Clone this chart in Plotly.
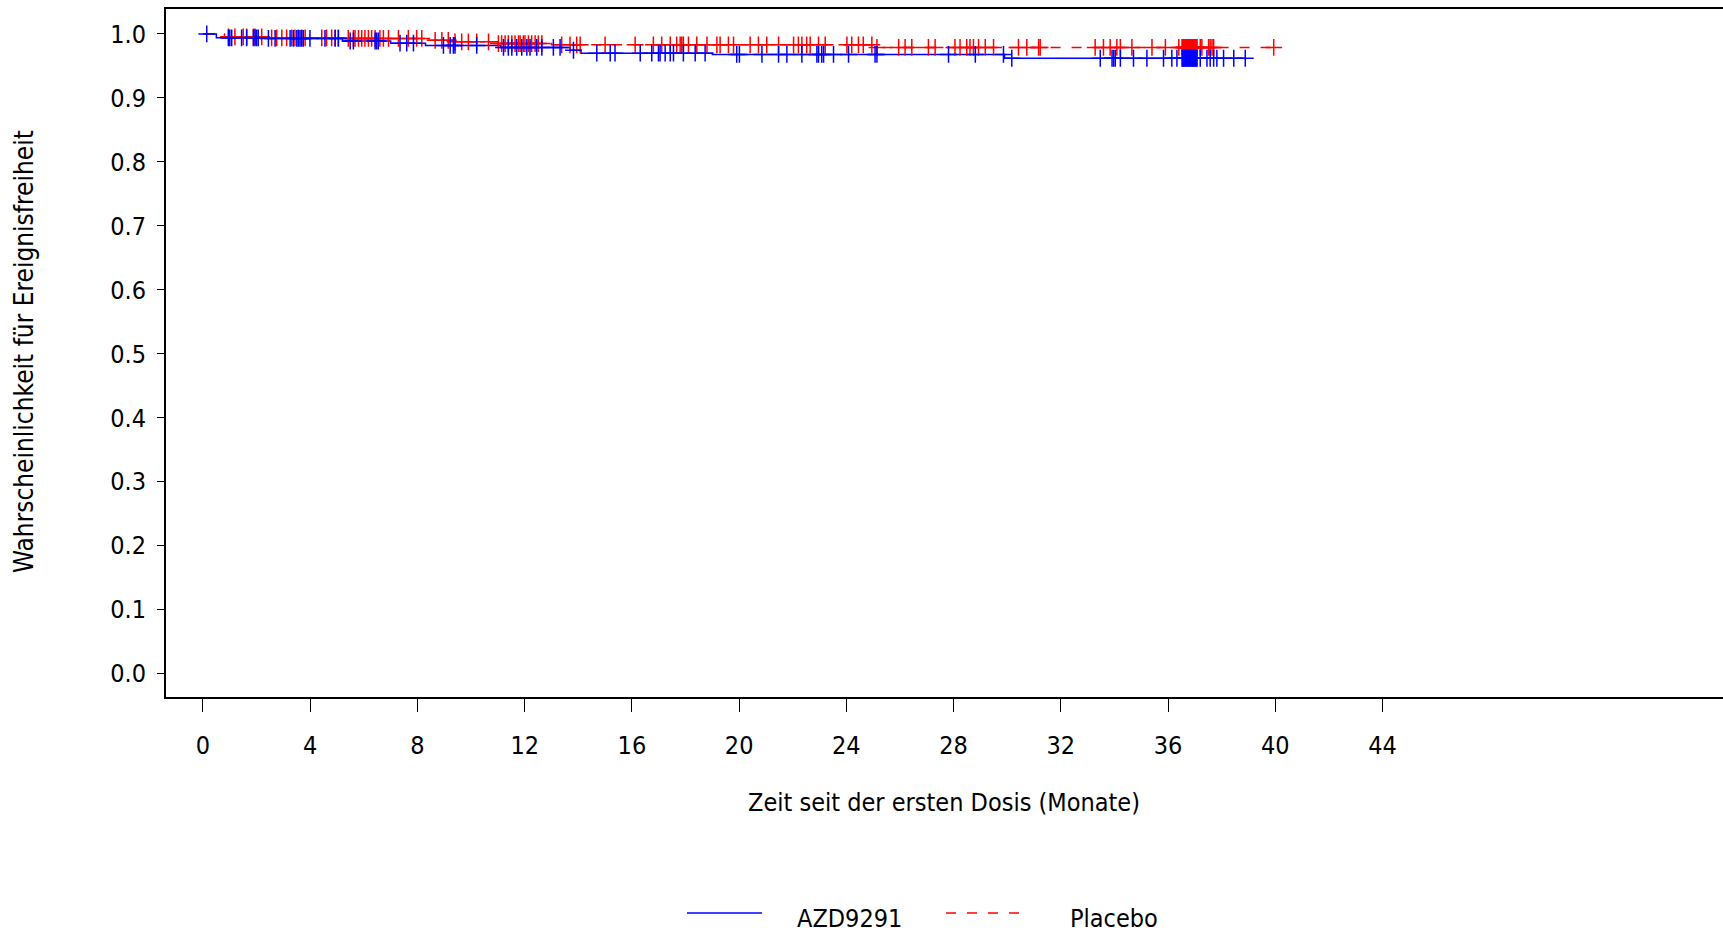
import plotly.graph_objects as go
import numpy as np

# ---------------- data ----------------
group_names = ["AZD9291", "Placebo"]

# Kaplan-Meier step curves (time in months, survival probability)
azd_step_times = [0.0, 0.5, 2.3, 5.2, 7.0, 8.3, 11.1, 13.7, 14.1, 19.0, 29.9, 38.9]
azd_step_surv = [1.0, 0.994, 0.993, 0.989, 0.9855, 0.982, 0.979, 0.9745, 0.970, 0.968, 0.962, 0.962]

pla_step_times = [0.0, 0.8, 2.3, 5.3, 8.3, 9.4, 11.0, 13.0, 25.1, 39.9]
pla_step_surv = [1.0, 0.9955, 0.994, 0.993, 0.990, 0.9877, 0.985, 0.983, 0.979, 0.979]

# censoring times
azd_censor = [0.14, 0.95, 1.0, 1.07, 1.44, 1.63, 1.88, 1.94, 2.0, 2.06, 2.44, 2.69,
              3.25, 3.37, 3.5, 3.56, 3.62, 3.68, 3.74, 3.99, 4.55, 4.93, 5.05, 5.49,
              5.61, 6.42, 6.48, 6.54, 7.35, 7.6, 7.85, 8.97, 9.22, 9.34, 9.4,
              10.21, 11.21, 11.39, 11.52, 11.7, 11.89, 12.08, 12.2, 12.45, 12.64,
              13.07, 13.32, 13.82, 14.69, 15.19, 15.37, 16.31, 16.74, 16.99, 17.05,
              17.24, 17.43, 17.55, 17.92, 18.36, 18.73, 19.91, 20.01,
              20.85, 21.47, 21.78, 22.34, 22.9, 22.96, 23.08, 23.15, 23.52, 24.08,
              25.07, 25.14, 27.81, 28.81, 29.86, 30.17,
              33.47, 33.91, 33.97, 34.03, 34.22, 34.71, 35.21, 35.83, 36.14, 36.33,
              36.52, 36.55, 36.58, 36.6, 36.63, 36.66, 36.69, 36.72, 36.75, 36.78,
              36.8, 36.83, 36.86, 36.89, 36.92, 36.95, 36.97, 37.0, 37.03, 37.06, 37.08,
              37.2, 37.45, 37.57, 37.7, 37.82, 38.07, 38.45, 38.88]

pla_censor = [0.95, 1.19, 1.5, 1.63, 1.88, 1.94, 2.19, 2.56, 2.75, 2.94, 3.12, 3.31,
              3.43, 3.56, 3.68, 3.81, 4.43, 4.61, 4.8, 4.93, 5.05, 5.42, 5.61, 5.67,
              5.8, 5.92, 6.04, 6.17, 6.29, 6.42, 6.6, 6.73, 6.92, 7.29, 7.66, 7.97,
              8.16, 8.66, 8.91, 9.15, 9.4, 9.65, 9.9,
              10.21, 10.65, 11.02, 11.14, 11.27, 11.39, 11.52, 11.64, 11.77, 11.83,
              11.95, 12.01, 12.14, 12.26, 12.39, 12.51, 12.64, 13.38, 13.69, 13.94,
              14.07, 15.0, 16.12, 16.8, 17.11, 17.43, 17.67, 17.8, 17.86, 17.92,
              18.11, 18.42, 18.8, 19.17, 19.29, 19.6, 19.79,
              20.41, 20.72, 21.03, 21.47, 22.03, 22.21, 22.34, 22.52, 22.65, 22.96,
              23.21, 24.02, 24.2, 24.45, 24.63, 24.95, 25.14, 25.95, 26.19, 26.44,
              27.06, 27.31, 28.05, 28.24, 28.49, 28.61, 28.74, 28.93, 29.18, 29.49,
              30.42, 30.73, 31.17, 31.23, 33.28, 33.59, 33.84, 34.09, 34.22, 34.65,
              35.4, 35.9, 36.4,
              36.52, 36.55, 36.58, 36.6, 36.63, 36.66, 36.69, 36.72, 36.75, 36.78,
              36.8, 36.83, 36.86, 36.89, 36.92, 36.95, 36.97, 37.0, 37.03, 37.06, 37.08,
              37.2, 37.26, 37.51, 37.57, 37.64, 37.7, 39.94]

x_ticks = [0, 4, 8, 12, 16, 20, 24, 28, 32, 36, 40, 44]
y_ticks = [0.0, 0.1, 0.2, 0.3, 0.4, 0.5, 0.6, 0.7, 0.8, 0.9, 1.0]

x_title = "Zeit seit der ersten Dosis (Monate)"
y_title = "Wahrscheinlichkeit für Ereignisfreiheit"

# ---------------- figure ----------------
FONT = "Tahoma, 'DejaVu Sans Condensed', 'Liberation Sans', sans-serif"
BLUE = "#0000FF"
RED = "#FF0000"
DASH = "10px,11px"
FS = 25


def surv_at(times, surv, t):
    idx = np.searchsorted(np.array(times), t, side="right") - 1
    return [surv[i] for i in idx]


fig = go.Figure()

fig.add_trace(go.Scatter(x=azd_step_times, y=azd_step_surv, mode="lines",
                         line=dict(color=BLUE, width=1.5, shape="hv"),
                         name=group_names[0], showlegend=False))
fig.add_trace(go.Scatter(x=pla_step_times, y=pla_step_surv, mode="lines",
                         line=dict(color=RED, width=1.5, shape="hv", dash=DASH),
                         name=group_names[1], showlegend=False))

fig.add_trace(go.Scatter(x=pla_censor, y=surv_at(pla_step_times, pla_step_surv, pla_censor),
                         mode="markers",
                         marker=dict(symbol="cross-thin", size=12,
                                     line=dict(color=RED, width=1.5)),
                         showlegend=False))
fig.add_trace(go.Scatter(x=azd_censor, y=surv_at(azd_step_times, azd_step_surv, azd_censor),
                         mode="markers",
                         marker=dict(symbol="cross-thin", size=12,
                                     line=dict(color=BLUE, width=1.5)),
                         showlegend=False))

# body margin is removed by post_script, so figure coords == page coords
W, H = 1723, 933
L = 166
T = 9
B = H - 697
PW = W - L
PH = H - T - B


def px(xp):
    return (xp - L) / PW


def py(yp):
    return (H - B - yp) / PH


fig.update_layout(
    width=W, height=H, autosize=False,
    margin=dict(l=L, r=0, t=T, b=B, pad=0),
    paper_bgcolor="white", plot_bgcolor="white",
    font=dict(family=FONT, size=FS, color="black"),
    showlegend=False,
    xaxis=dict(range=[-1.38, 56.7], tickvals=x_ticks, ticktext=[str(v) for v in x_ticks],
               showgrid=False, zeroline=False, showline=True, linecolor="black",
               linewidth=2, mirror=True, ticks="outside", ticklen=13, tickwidth=1,
               tickcolor="black", ticklabelstandoff=12,
               tickfont=dict(family=FONT, size=FS)),
    yaxis=dict(range=[-0.0365, 1.039], tickvals=y_ticks,
               ticktext=["%.1f" % v for v in y_ticks],
               showgrid=False, zeroline=False, showline=True, linecolor="black",
               linewidth=2, mirror=False, ticks="outside", ticklen=7, tickwidth=1,
               tickcolor="black", ticklabelstandoff=6,
               tickfont=dict(family=FONT, size=FS)),
)

# axis titles
fig.add_annotation(text=x_title, xref="paper", yref="paper", x=px(944), y=py(802),
                   xanchor="center", yanchor="middle", showarrow=False,
                   font=dict(family=FONT, size=FS))
fig.add_annotation(text=y_title, xref="paper", yref="paper", x=px(24), y=py(352),
                   xanchor="center", yanchor="middle", showarrow=False, textangle=-90,
                   font=dict(family=FONT, size=26))

# legend
fig.add_shape(type="line", xref="paper", yref="paper", x0=px(687), x1=px(762),
              y0=py(913), y1=py(913), line=dict(color=BLUE, width=1.5))
fig.add_shape(type="line", xref="paper", yref="paper", x0=px(946), x1=px(1022),
              y0=py(913), y1=py(913), line=dict(color=RED, width=1.5, dash=DASH))
fig.add_annotation(text=group_names[0], xref="paper", yref="paper", x=px(795), y=py(918),
                   xanchor="left", yanchor="middle", showarrow=False,
                   font=dict(family=FONT, size=FS))
fig.add_annotation(text=group_names[1], xref="paper", yref="paper", x=px(1068), y=py(918),
                   xanchor="left", yanchor="middle", showarrow=False,
                   font=dict(family=FONT, size=FS))

fig.write_html(
    "out.html",
    config={"displayModeBar": False},
    post_script="document.body.style.margin='0px';document.body.style.overflow='hidden';",
)
